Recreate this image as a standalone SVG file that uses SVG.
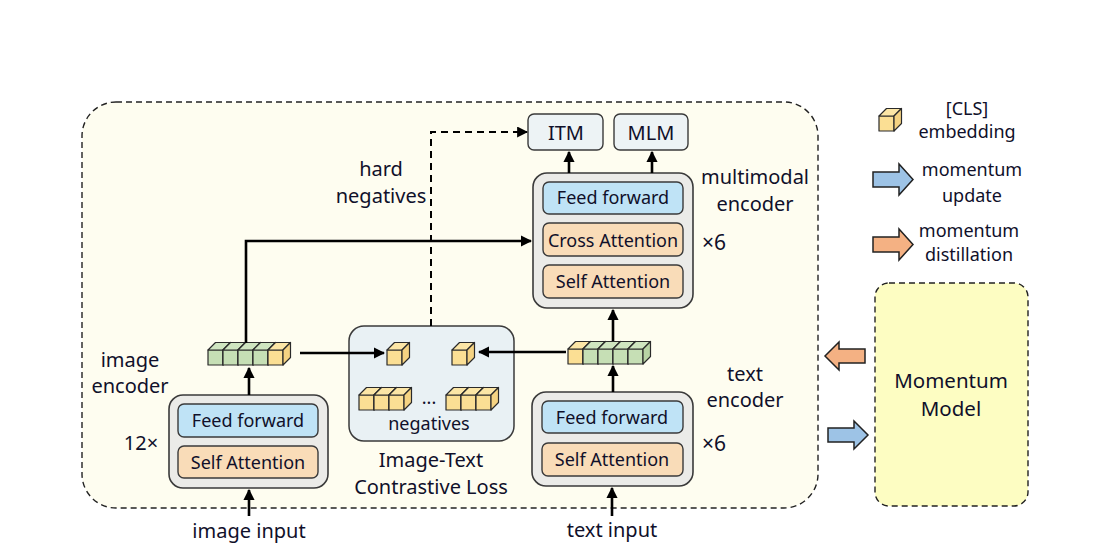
<svg xmlns="http://www.w3.org/2000/svg" xmlns:xlink="http://www.w3.org/1999/xlink" width="1115" height="547" viewBox="0 0 1115 547">
<defs>
<style>
text{font-family:"Noto Sans","Open Sans","DejaVu Sans",sans-serif;fill:#10102a;text-anchor:middle}
.lbl{font-size:20px}
.box{font-size:18px}
.leg{font-size:18px}
.enc{fill:#ebebe8;stroke:#3a3a3a;stroke-width:1.6}
.ff{fill:#bfe3f6;stroke:#3a3a3a;stroke-width:1.4}
.att{fill:#f9dcb8;stroke:#3a3a3a;stroke-width:1.4}
.head{fill:#edf3f5;stroke:#3a3a3a;stroke-width:1.4}
.ln{fill:none;stroke:#000;stroke-width:2.6}
.dash{fill:none;stroke:#000;stroke-width:2;stroke-dasharray:7 5}
.cube{stroke:#2a2a2a;stroke-width:1.2;stroke-linejoin:round}
</style>
<marker id="ah" viewBox="0 0 10 10" refX="9" refY="5" markerWidth="4.4" markerHeight="4.4" orient="auto" markerUnits="strokeWidth">
<path d="M0,0 L10,5 L0,10 z" fill="#000"/>
</marker>
<marker id="ahd" viewBox="0 0 10 10" refX="9" refY="5" markerWidth="5.5" markerHeight="5.5" orient="auto" markerUnits="strokeWidth">
<path d="M0,0 L10,5 L0,10 z" fill="#000"/>
</marker>
<g id="cy" class="cube">
<rect x="0" y="0" width="15" height="15" fill="#fbdf94"/>
<path d="M0,0 L7.5,-7.5 L22.5,-7.5 L15,0 z" fill="#fce6a6"/>
<path d="M15,0 L22.5,-7.5 L22.5,7.5 L15,15 z" fill="#f5d382"/>
</g>
<g id="cg" class="cube">
<rect x="0" y="0" width="15" height="15" fill="#c6dfb5"/>
<path d="M0,0 L7.5,-7.5 L22.5,-7.5 L15,0 z" fill="#cfe5c0"/>
<path d="M15,0 L22.5,-7.5 L22.5,7.5 L15,15 z" fill="#b8d4a5"/>
</g>
</defs>
<rect width="1115" height="547" fill="#ffffff"/>

<g id="outer">
<rect x="82" y="102" width="736" height="406" rx="34" fill="#fefdf0" stroke="#222" stroke-width="1.4" stroke-dasharray="6 4"/>
</g>

<g id="momentum-model">
<rect x="875" y="283" width="153" height="223" rx="14" fill="#fdfdc2" stroke="#222" stroke-width="1.4" stroke-dasharray="6 4"/>
<text x="951" y="388" style="font-size:20.5px">Momentum</text>
<text x="951" y="416" style="font-size:20.5px">Model</text>
</g>

<g id="image-encoder">
<rect class="enc" x="169" y="395" width="159" height="93" rx="14"/>
<rect class="ff" x="178" y="404" width="140" height="33" rx="6"/>
<text class="box" x="248" y="427">Feed forward</text>
<rect class="att" x="178" y="446" width="140" height="32" rx="6"/>
<text class="box" x="248" y="469">Self Attention</text>
<text class="lbl" x="130" y="367">image</text>
<text class="lbl" x="130" y="393">encoder</text>
<text class="lbl" x="141" y="450">12×</text>
<text class="lbl" x="249" y="538">image input</text>
</g>

<g id="text-encoder">
<rect class="enc" x="532" y="392" width="161" height="94" rx="14"/>
<rect class="ff" x="542" y="401" width="141" height="32" rx="6"/>
<text class="box" x="612" y="424">Feed forward</text>
<rect class="att" x="542" y="443" width="141" height="33" rx="6"/>
<text class="box" x="612" y="466">Self Attention</text>
<text class="lbl" x="745" y="381">text</text>
<text class="lbl" x="745" y="407">encoder</text>
<text class="lbl" x="714" y="451" style="font-size:21px">×6</text>
<text class="lbl" x="612" y="537">text input</text>
</g>

<g id="multimodal-encoder">
<rect class="enc" x="533" y="173" width="160" height="135" rx="14"/>
<rect class="ff" x="543" y="182" width="140" height="32" rx="6"/>
<text class="box" x="613" y="204">Feed forward</text>
<rect class="att" x="543" y="223" width="140" height="33" rx="6"/>
<text class="box" x="613" y="247">Cross Attention</text>
<rect class="att" x="543" y="265" width="140" height="33" rx="6"/>
<text class="box" x="613" y="288">Self Attention</text>
<text class="lbl" x="755" y="184">multimodal</text>
<text class="lbl" x="755" y="211">encoder</text>
<text class="lbl" x="714" y="250" style="font-size:21px">×6</text>
</g>

<g id="itm">
<rect class="head" x="528" y="114" width="75" height="36" rx="6"/>
<text class="lbl" x="566" y="140">ITM</text>
</g>
<g id="mlm">
<rect class="head" x="614" y="114" width="74" height="36" rx="6"/>
<text class="lbl" x="651" y="140">MLM</text>
</g>

<g id="itc">
<rect x="349" y="326" width="165" height="115" rx="15" fill="#e9f1f4" stroke="#3a3a3a" stroke-width="1.5"/>
<use xlink:href="#cy" x="387" y="350"/>
<use xlink:href="#cy" x="452" y="350"/>
<use xlink:href="#cy" x="359" y="395"/>
<use xlink:href="#cy" x="374" y="395"/>
<use xlink:href="#cy" x="389" y="395"/>
<text class="box" x="429" y="404">...</text>
<use xlink:href="#cy" x="446" y="395"/>
<use xlink:href="#cy" x="461" y="395"/>
<use xlink:href="#cy" x="476" y="395"/>
<text class="box" x="429" y="430">negatives</text>
<text class="lbl" x="431" y="467">Image-Text</text>
<text class="lbl" x="431" y="494">Contrastive Loss</text>
</g>

<g id="image-embedding">
<use xlink:href="#cg" x="208" y="350"/>
<use xlink:href="#cg" x="223" y="350"/>
<use xlink:href="#cg" x="238" y="350"/>
<use xlink:href="#cg" x="253" y="350"/>
<use xlink:href="#cy" x="268" y="350"/>
</g>

<g id="text-embedding">
<use xlink:href="#cy" x="568" y="349"/>
<use xlink:href="#cg" x="583" y="349"/>
<use xlink:href="#cg" x="598" y="349"/>
<use xlink:href="#cg" x="613" y="349"/>
<use xlink:href="#cg" x="628" y="349"/>
</g>

<g id="hard-negatives-label">
<text class="lbl" x="381" y="176">hard</text>
<text class="lbl" x="381" y="203">negatives</text>
</g>

<g id="connectors">
<path class="ln" d="M249,516 V490" marker-end="url(#ah)"/>
<path class="ln" d="M249,395 V368" marker-end="url(#ah)"/>
<path class="ln" d="M246,343 V241 H531" marker-end="url(#ah)"/>
<path class="ln" d="M300,353 H384" marker-end="url(#ah)"/>
<path class="ln" d="M566,352 H479" marker-end="url(#ah)"/>
<path class="ln" d="M612,516 V488" marker-end="url(#ah)"/>
<path class="ln" d="M613,392 V366" marker-end="url(#ah)"/>
<path class="ln" d="M613,341 V310" marker-end="url(#ah)"/>
<path class="ln" d="M569,173 V152" marker-end="url(#ah)"/>
<path class="ln" d="M652,173 V152" marker-end="url(#ah)"/>
<path class="dash" d="M431,326 V132 H527" marker-end="url(#ahd)"/>
</g>

<g id="momentum-arrows">
<path d="M865,349 H839 V342 L825,356 L839,370 V363 H865 z" fill="#f4b183" stroke="#222" stroke-width="1.5"/>
<path d="M828,428 H854 V421 L868,435 L854,449 V442 H828 z" fill="#9dc3e6" stroke="#222" stroke-width="1.5"/>
</g>

<g id="legend">
<use xlink:href="#cy" x="879" y="116"/>
<text class="leg" x="967" y="115">[CLS]</text>
<text class="leg" x="967" y="138">embedding</text>
<path d="M873,172 H899 V164 L913,179.5 L899,195 V187 H873 z" fill="#9dc3e6" stroke="#222" stroke-width="1.5"/>
<text class="leg" x="972" y="176">momentum</text>
<text class="leg" x="972" y="202">update</text>
<path d="M873,237 H899 V229 L913,244.5 L899,260 V252 H873 z" fill="#f4b183" stroke="#222" stroke-width="1.5"/>
<text class="leg" x="969" y="237">momentum</text>
<text class="leg" x="969" y="261">distillation</text>
</g>
</svg>
